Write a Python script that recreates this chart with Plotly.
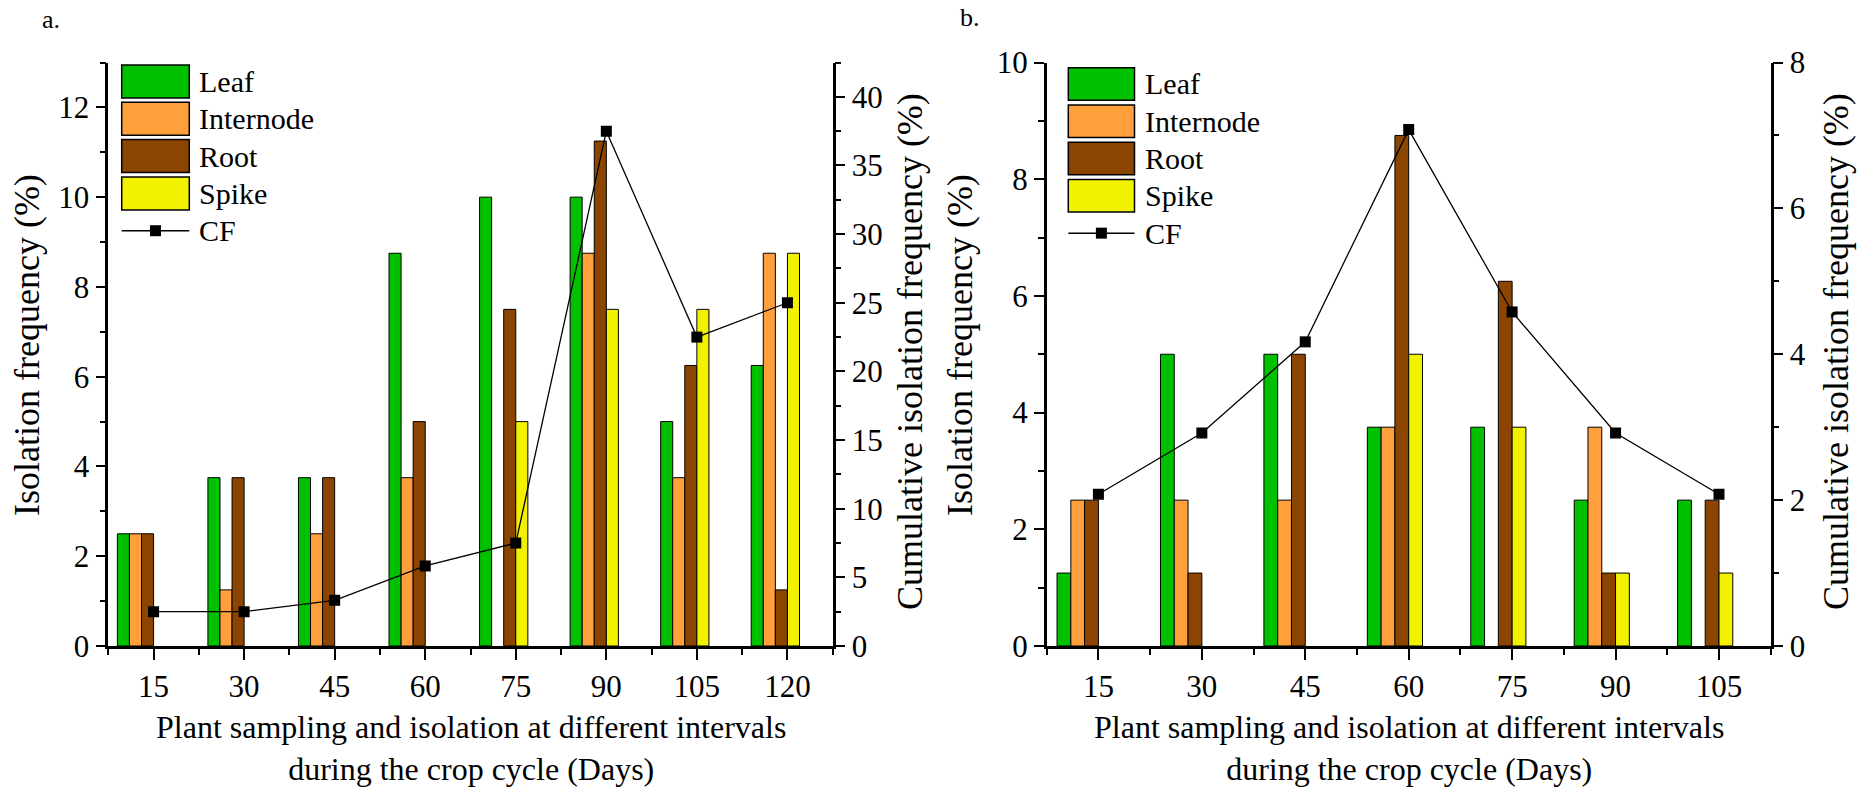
import plotly.graph_objects as go

W, H = 1865, 795

# ---------------- data ----------------
days_a = [15, 30, 45, 60, 75, 90, 105, 120]
leaf_a = [2.5, 3.75, 3.75, 8.75, 10, 10, 5, 6.25]
internode_a = [2.5, 1.25, 2.5, 3.75, 0, 8.75, 3.75, 8.75]
root_a = [2.5, 3.75, 3.75, 5, 7.5, 11.25, 6.25, 1.25]
spike_a = [0, 0, 0, 0, 5, 7.5, 7.5, 8.75]
cf_a = [2.5, 2.5, 3.33, 5.83, 7.5, 37.5, 22.5, 25]

days_b = [15, 30, 45, 60, 75, 90, 105]
leaf_b = [1.25, 5, 5, 3.75, 3.75, 2.5, 2.5]
internode_b = [2.5, 2.5, 2.5, 3.75, 0, 3.75, 0]
root_b = [2.5, 1.25, 5, 8.75, 6.25, 1.25, 2.5]
spike_b = [0, 0, 0, 5, 3.75, 1.25, 1.25]
cf_b = [2.08, 2.92, 4.17, 7.08, 4.58, 2.92, 2.08]

series_names = ["Leaf", "Internode", "Root", "Spike"]
colors = ["#00C000", "#FFA03C", "#8B4500", "#F2F200"]

FONT = "Liberation Serif, Times New Roman, Times, serif"
TICK_SIZE = 31
TITLE_SIZE = 32
YTITLE_SIZE = 36
LEG_SIZE = 30


def px_x(p):
    return p / W


def px_y(p):
    return 1 - p / H


fig = go.Figure()

panels = [
    dict(days=days_a, vals=[leaf_a, internode_a, root_a, spike_a], cf=cf_a,
         x="x", y="y", y2="y3"),
    dict(days=days_b, vals=[leaf_b, internode_b, root_b, spike_b], cf=cf_b,
         x="x2", y="y2", y2="y4"),
]

for p in panels:
    for i, (name, vals) in enumerate(zip(series_names, p["vals"])):
        fig.add_trace(go.Bar(
            x=p["days"], y=vals, name=name, width=2, offset=-6 + 2 * i,
            marker=dict(color=colors[i],
                        line=dict(color="black",
                                  width=[1 if v > 0 else 0 for v in vals])),
            xaxis=p["x"], yaxis=p["y"], showlegend=False))
    fig.add_trace(go.Scatter(
        x=p["days"], y=p["cf"], name="CF", mode="lines+markers",
        line=dict(color="black", width=1.3),
        marker=dict(symbol="square", size=11, color="black"),
        xaxis=p["x"], yaxis=p["y2"], showlegend=False))

ydom = [px_y(646), px_y(62.5)]
xdom_a = [px_x(108.3), px_x(832.7)]
xdom_b = [px_x(1046.7), px_x(1770.7)]

tickfont = dict(family=FONT, size=TICK_SIZE, color="black")


def xax(dom, rng, vals, minor_vals, anchor):
    return dict(domain=dom, range=rng, anchor=anchor, tickmode="array",
                tickvals=vals, ticktext=[str(v) for v in vals],
                ticks="outside", ticklen=11, tickwidth=2, tickcolor="black",
                showline=True, linewidth=2.5, linecolor="black",
                showgrid=False, zeroline=False, tickfont=tickfont,
                automargin=False, fixedrange=True,
                minor=dict(tickmode="array", tickvals=minor_vals, ticks="outside",
                           ticklen=6, tickwidth=2, tickcolor="black", showgrid=False))


def yax(rng, dtick, mdtick, anchor, side="left", overlaying=None):
    d = dict(domain=ydom, range=rng, anchor=anchor, side=side,
             tickmode="linear", tick0=0, dtick=dtick,
             ticks="outside", ticklen=10, tickwidth=2, tickcolor="black",
             showline=True, linewidth=2.5, linecolor="black",
             showgrid=False, zeroline=False, tickfont=tickfont,
             automargin=False, fixedrange=True,
             minor=dict(tickmode="linear", tick0=0, dtick=mdtick, ticks="outside",
                        ticklen=6, tickwidth=2, tickcolor="black", showgrid=False))
    if overlaying:
        d["overlaying"] = overlaying
    return d


fig.update_layout(
    template="none",
    width=W, height=H,
    margin=dict(l=0, r=0, t=0, b=0, pad=0, autoexpand=False),
    paper_bgcolor="white", plot_bgcolor="rgba(0,0,0,0)",
    barmode="overlay",
    showlegend=False,
    font=dict(family=FONT, color="black"),
    xaxis=xax(xdom_a, [7.5, 127.5], days_a, [7.5 + 15 * k for k in range(9)], "y"),
    xaxis2=xax(xdom_b, [7.5, 112.5], days_b, [7.5 + 15 * k for k in range(8)], "y2"),
    yaxis=yax([0, 13], 2, 1, "x"),
    yaxis3=yax([0, 42.5], 5, 2.5, "x", side="right", overlaying="y"),
    yaxis2=yax([0, 10], 2, 1, "x2"),
    yaxis4=yax([0, 8], 2, 1, "x2", side="right", overlaying="y2"),
)

shapes = []
annotations = []

# axis titles
xt = "Plant sampling and isolation at different intervals<br>during the crop cycle (Days)"
for cx in [(108.3 + 832.7) / 2, (1046.7 + 1770.7) / 2]:
    annotations.append(dict(text=xt, x=px_x(cx), y=px_y(748), xref="paper", yref="paper",
                            xanchor="center", yanchor="middle", showarrow=False,
                            font=dict(family=FONT, size=TITLE_SIZE, color="black")))
for cx, cy, txt in [(27, 345, "Isolation frequency (%)"),
                    (910, 352, "Cumulative isolation frequency (%)"),
                    (960, 345, "Isolation frequency (%)"),
                    (1836, 352, "Cumulative isolation frequency (%)")]:
    annotations.append(dict(text=txt, x=px_x(cx), y=px_y(cy), xref="paper", yref="paper",
                            xanchor="center", yanchor="middle", textangle=-90,
                            showarrow=False,
                            font=dict(family=FONT, size=YTITLE_SIZE, color="black")))

# panel labels
annotations.append(dict(text="a.", x=px_x(40), y=px_y(20), xref="paper", yref="paper",
                        xanchor="left", yanchor="middle", showarrow=False,
                        font=dict(family=FONT, size=26, color="black")))
annotations.append(dict(text="b.", x=px_x(958), y=px_y(18), xref="paper", yref="paper",
                        xanchor="left", yanchor="middle", showarrow=False,
                        font=dict(family=FONT, size=26, color="black")))

# manual legends
for (sx0, sx1, top, h, step, tx) in [(121.7, 189.3, 65, 33, 37.3, 197.3),
                                      (1068.3, 1134.5, 67.7, 32.5, 37.3, 1143)]:
    for i, name in enumerate(series_names):
        y0 = top + i * step
        shapes.append(dict(type="rect", xref="paper", yref="paper",
                           x0=px_x(sx0), x1=px_x(sx1), y0=px_y(y0), y1=px_y(y0 + h),
                           fillcolor=colors[i], line=dict(color="black", width=1.5)))
        annotations.append(dict(text=name, x=px_x(tx), y=px_y(y0 + h / 2),
                                xref="paper", yref="paper", xanchor="left",
                                yanchor="middle", showarrow=False,
                                font=dict(family=FONT, size=LEG_SIZE, color="black")))
    cy = top + 4 * step + h / 2
    cxm = (sx0 + sx1) / 2
    shapes.append(dict(type="line", xref="paper", yref="paper",
                       x0=px_x(sx0), x1=px_x(sx1), y0=px_y(cy), y1=px_y(cy),
                       line=dict(color="black", width=1.5)))
    shapes.append(dict(type="rect", xref="paper", yref="paper",
                       x0=px_x(cxm - 5.5), x1=px_x(cxm + 5.5),
                       y0=px_y(cy - 5.5), y1=px_y(cy + 5.5),
                       fillcolor="black", line=dict(color="black", width=0)))
    annotations.append(dict(text="CF", x=px_x(tx), y=px_y(cy),
                            xref="paper", yref="paper", xanchor="left",
                            yanchor="middle", showarrow=False,
                            font=dict(family=FONT, size=LEG_SIZE, color="black")))

fig.update_layout(shapes=shapes, annotations=annotations)

fig.write_html("out.html")
